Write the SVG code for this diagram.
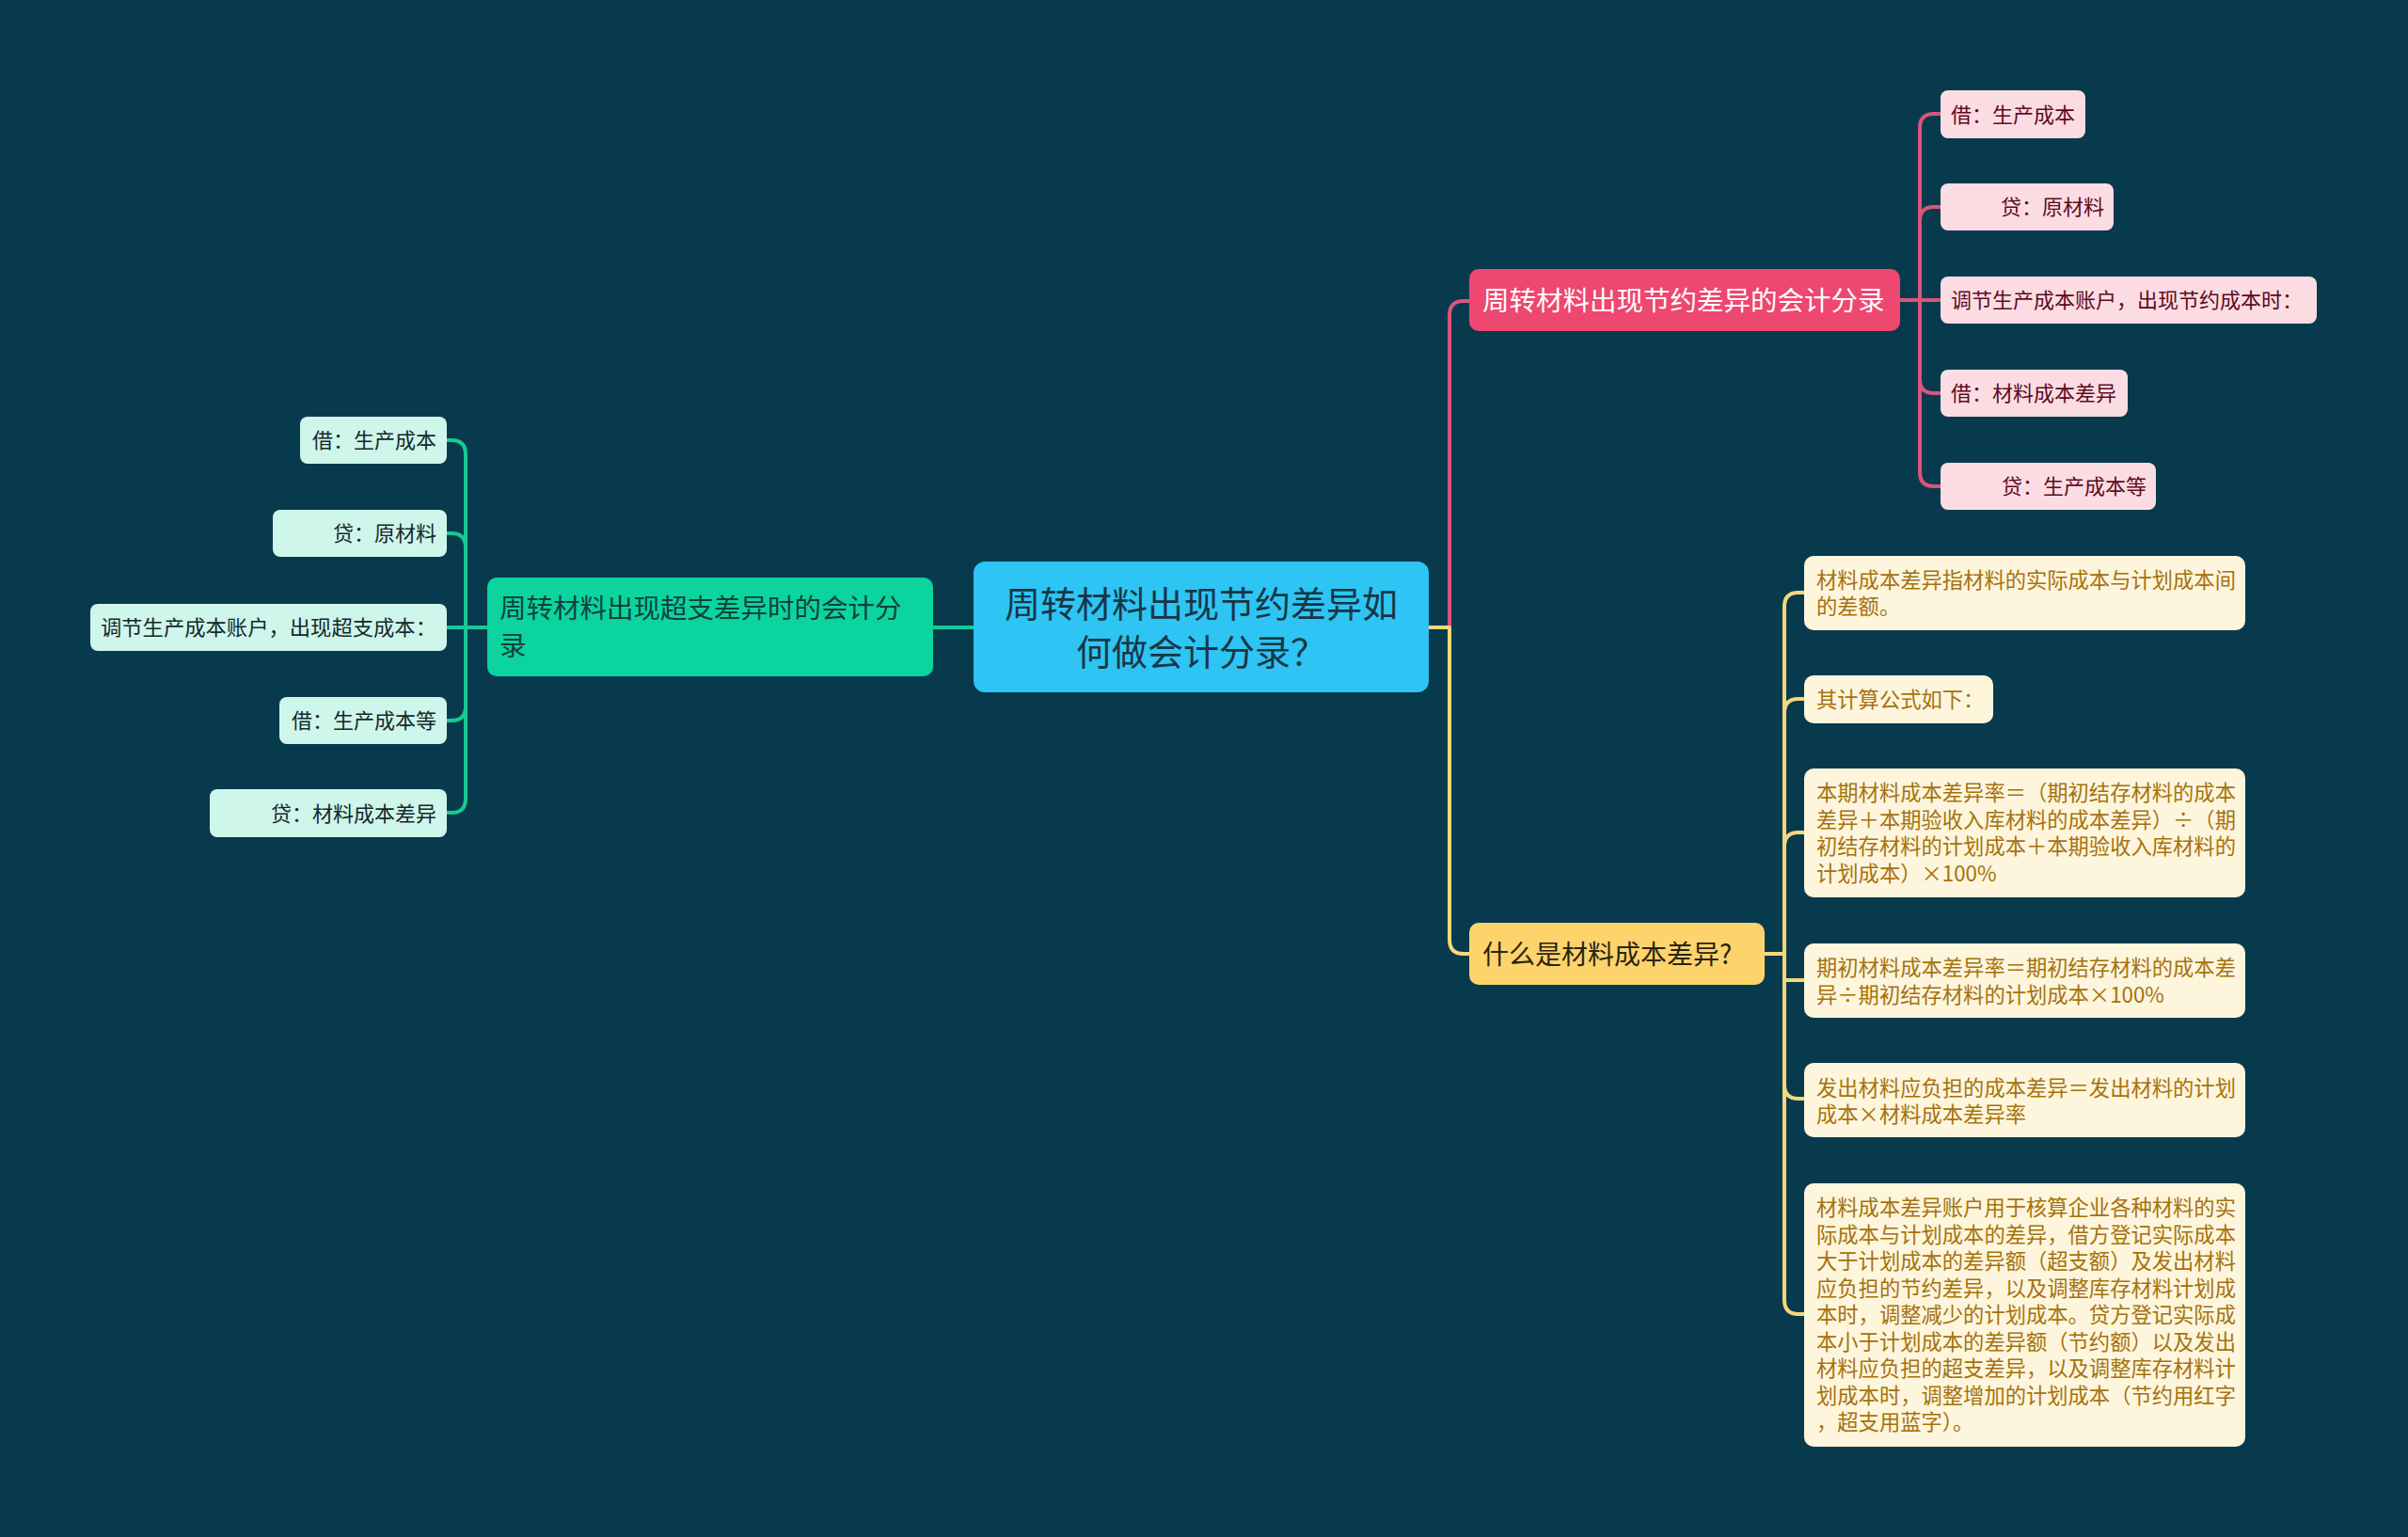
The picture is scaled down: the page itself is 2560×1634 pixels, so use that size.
<svg xmlns="http://www.w3.org/2000/svg" width="2560" height="1634" viewBox="0 0 2560 1634">
<style>
text{font-family:"Noto Sans CJK SC","Noto Sans",sans-serif;}
.c{fill:none;stroke-linecap:round;stroke-linejoin:round;}
.cp{stroke:#D9557A;stroke-width:4;}
.cy{stroke:#F6D77A;stroke-width:4;}
.cg{stroke:#17C995;stroke-width:4;}
.lp rect{fill:#FCDCE3;}
.lp text{fill:#5E0A1F;font-size:22px;}
.lg rect{fill:#CFF6EA;}
.lg text{fill:#14282A;font-size:22px;}
.ly rect{fill:#FEF5DD;}
.ly text{fill:#A5720B;font-size:22.3px;}
</style>
<rect width="2560" height="1634" fill="#083A4E"/>
<g id="connectors">
<path class="c cp" d="M1519,667 H1541 V335 Q1541,320 1556,320 H1562"/>
<path class="c cy" d="M1519,667 H1541 V999 Q1541,1014 1556,1014 H1562"/>
<path class="c cg" d="M1035,667 H992"/>
<path class="c cp" d="M2020,319 H2041 M2041,319 V136 Q2041,121 2056,121 H2063 M2041,319 V235 Q2041,220 2056,220 H2063 M2041,319 H2063 M2041,319 V403 Q2041,418 2056,418 H2063 M2041,319 V502 Q2041,517 2056,517 H2063"/>
<path class="c cg" d="M518,667 H495 M495,667 V483 Q495,468 480,468 H475 M495,667 V582 Q495,567 480,567 H475 M495,667 H475 M495,667 V751 Q495,766 480,766 H475 M495,667 V849 Q495,864 480,864 H475"/>
<path class="c cy" d="M1876,1014 H1897 M1897,1014 V645 Q1897,630 1912,630 H1918 M1897,1014 V758 Q1897,743 1912,743 H1918 M1897,1014 V900 Q1897,885 1912,885 H1918 M1897,1014 V1042 Q1897,1042 1912,1042 H1918 M1897,1014 V1153 Q1897,1168 1912,1168 H1918 M1897,1014 V1382 Q1897,1397 1912,1397 H1918"/>
</g>
<g id="root">
<rect x="1035" y="597" width="484" height="139" rx="12" fill="#2EC4F3"/>
<text x="1277" y="656" font-size="38" fill="#173645" text-anchor="middle">周转材料出现节约差异如</text>
<text x="1277" y="707" font-size="38" fill="#173645" text-anchor="middle">何做会计分录？</text>
</g>
<g id="n-red">
<rect x="1562" y="286" width="458" height="66" rx="10" fill="#EE4770"/>
<text x="1576" y="330" font-size="28.5" fill="#FFFFFF">周转材料出现节约差异的会计分录</text>
</g>
<g id="n-yellow">
<rect x="1562" y="981" width="314" height="66" rx="10" fill="#FDD36C"/>
<text x="1576" y="1025" font-size="28" fill="#2A2410">什么是材料成本差异?</text>
</g>
<g id="n-green">
<rect x="518" y="614" width="474" height="105" rx="10" fill="#0BD49F"/>
<text x="531" y="657" font-size="28.5" fill="#10413A">周转材料出现超支差异时的会计分</text>
<text x="531" y="697" font-size="28.5" fill="#10413A">录</text>
</g>
<g id="p1" class="lp"><rect x="2063" y="96" width="154" height="51" rx="8"/><text x="2074" y="130">借：生产成本</text></g>
<g id="p2" class="lp"><rect x="2063" y="195" width="184" height="50" rx="8"/><text x="2237" y="228" text-anchor="end">贷：原材料</text></g>
<g id="p3" class="lp"><rect x="2063" y="294" width="400" height="50" rx="8"/><text x="2074" y="327">调节生产成本账户，出现节约成本时：</text></g>
<g id="p4" class="lp"><rect x="2063" y="393" width="199" height="50" rx="8"/><text x="2074" y="426">借：材料成本差异</text></g>
<g id="p5" class="lp"><rect x="2063" y="492" width="229" height="50" rx="8"/><text x="2282" y="525" text-anchor="end">贷：生产成本等</text></g>
<g id="g1" class="lg"><rect x="319" y="443" width="156" height="50" rx="8"/><text x="464" y="476" text-anchor="end">借：生产成本</text></g>
<g id="g2" class="lg"><rect x="290" y="542" width="185" height="50" rx="8"/><text x="464" y="575" text-anchor="end">贷：原材料</text></g>
<g id="g3" class="lg"><rect x="96" y="642" width="379" height="50" rx="8"/><text x="107" y="675" textLength="357" lengthAdjust="spacingAndGlyphs">调节生产成本账户，出现超支成本：</text></g>
<g id="g4" class="lg"><rect x="297" y="741" width="178" height="50" rx="8"/><text x="464" y="774" text-anchor="end">借：生产成本等</text></g>
<g id="g5" class="lg"><rect x="223" y="839" width="252" height="51" rx="8"/><text x="464" y="873" text-anchor="end">贷：材料成本差异</text></g>
<g id="y1" class="ly"><rect x="1918" y="591" width="469" height="79" rx="10"/>
<text x="1931" y="625">材料成本差异指材料的实际成本与计划成本间</text>
<text x="1931" y="653">的差额。</text></g>
<g id="y2" class="ly"><rect x="1918" y="718" width="201" height="51" rx="10"/>
<text x="1931" y="752">其计算公式如下：</text></g>
<g id="y3" class="ly"><rect x="1918" y="817" width="469" height="137" rx="10"/>
<text x="1931" y="851">本期材料成本差异率＝（期初结存材料的成本</text>
<text x="1931" y="879.5">差异＋本期验收入库材料的成本差异）÷（期</text>
<text x="1931" y="908">初结存材料的计划成本＋本期验收入库材料的</text>
<text x="1931" y="936.5">计划成本）×100%</text></g>
<g id="y4" class="ly"><rect x="1918" y="1003" width="469" height="79" rx="10"/>
<text x="1931" y="1037">期初材料成本差异率＝期初结存材料的成本差</text>
<text x="1931" y="1065.5">异÷期初结存材料的计划成本×100%</text></g>
<g id="y5" class="ly"><rect x="1918" y="1130" width="469" height="79" rx="10"/>
<text x="1931" y="1165">发出材料应负担的成本差异＝发出材料的计划</text>
<text x="1931" y="1193">成本×材料成本差异率</text></g>
<g id="y6" class="ly"><rect x="1918" y="1258" width="469" height="280" rx="10"/>
<text x="1931" y="1292">材料成本差异账户用于核算企业各种材料的实</text>
<text x="1931" y="1320.5">际成本与计划成本的差异，借方登记实际成本</text>
<text x="1931" y="1349">大于计划成本的差异额（超支额）及发出材料</text>
<text x="1931" y="1377.5">应负担的节约差异，以及调整库存材料计划成</text>
<text x="1931" y="1406">本时，调整减少的计划成本。贷方登记实际成</text>
<text x="1931" y="1434.5">本小于计划成本的差异额（节约额）以及发出</text>
<text x="1931" y="1463">材料应负担的超支差异，以及调整库存材料计</text>
<text x="1931" y="1491.5">划成本时，调整增加的计划成本（节约用红字</text>
<text x="1931" y="1520">，超支用蓝字）。</text></g>
</svg>
